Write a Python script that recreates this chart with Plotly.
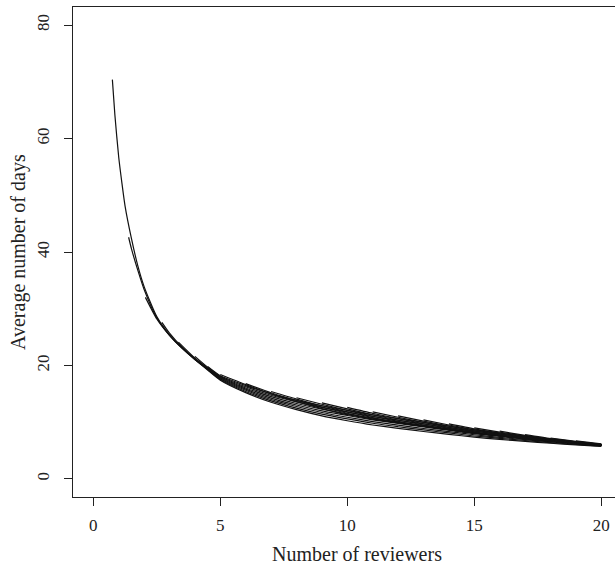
import plotly.graph_objects as go

# Early curves: number of reviewers (x) and average number of days (y)
reviewers_a = [0.75, 0.85, 1.0, 1.13, 1.25, 1.5, 1.75, 2.0, 2.5, 3.0, 3.5, 4.0, 4.5,
               5, 6, 7, 8, 9, 10, 11, 12, 13, 14, 15, 16, 17, 18, 19, 20]
days_a = [70.4, 64.1, 56.7, 52.0, 48.1, 42.4, 37.6, 33.9, 28.6, 25.4, 23.1, 21.1, 19.2,
          17.4, 15.2, 13.5, 12.2, 11.1, 10.25, 9.5, 8.9, 8.35, 7.85, 7.35, 6.95, 6.6, 6.28, 5.98, 5.72]

reviewers_b = [1.39, 1.5, 1.75, 2.0, 2.5, 3.0, 3.5, 4.0, 4.5,
               5, 6, 7, 8, 9, 10, 11, 12, 13, 14, 15, 16, 17, 18, 19, 20]
days_b = [42.6, 40.6, 36.8, 33.4, 28.4, 25.3, 23.0, 21.05, 19.3,
          17.53, 15.41, 13.75, 12.47, 11.40, 10.56, 9.80, 9.19, 8.62, 8.09, 7.56, 7.14, 6.76, 6.40, 6.07, 5.78]

reviewers_c = [2.05, 2.5, 3.0, 3.5, 4.0, 4.5,
               5, 6, 7, 8, 9, 10, 11, 12, 13, 14, 15, 16, 17, 18, 19, 20]
days_c = [32.0, 28.2, 25.3, 23.0, 21.05, 19.35,
          17.66, 15.62, 13.99, 12.75, 11.70, 10.86, 10.10, 9.47, 8.88, 8.33, 7.78, 7.33, 6.91, 6.52, 6.17, 5.84]

reviewers_d = [2.7, 3.0, 3.5, 4.0, 4.5,
               5, 6, 7, 8, 9, 10, 11, 12, 13, 14, 15, 16, 17, 18, 19, 20]
days_d = [27.6, 25.7, 23.2, 21.15, 19.45,
          17.79, 15.82, 14.24, 13.02, 12.00, 11.17, 10.40, 9.76, 9.15, 8.57, 7.99, 7.52, 7.07, 6.64, 6.26, 5.91]

reviewers_e = [3.35, 3.5, 4.0, 4.5,
               5, 6, 7, 8, 9, 10, 11, 12, 13, 14, 15, 16, 17, 18, 19, 20]
days_e = [24.1, 23.45, 21.3, 19.55,
          17.92, 16.03, 14.49, 13.29, 12.30, 11.47, 10.70, 10.04, 9.42, 8.81, 8.21, 7.70, 7.22, 6.76, 6.35, 5.97]

reviewers_f = [4.0, 4.5, 5, 6, 7, 8, 9, 10, 11, 12, 13, 14, 15, 16, 17, 18, 19, 20]
days_f = [21.6, 19.7, 18.05, 16.24, 14.74, 13.57, 12.60, 11.78, 10.99, 10.33, 9.68, 9.05, 8.42, 7.89, 7.38, 6.88, 6.45, 6.03]

reviewers_g = [4.5, 5, 6, 7, 8, 9, 10, 11, 12, 13, 14, 15, 16, 17, 18, 19, 20]
days_g = [19.8, 18.18, 16.45, 14.98, 13.84, 12.89, 12.08, 11.29, 10.62, 9.95, 9.29, 8.64, 8.08, 7.54, 7.00, 6.54, 6.09]

# Later curves start at a whole number of reviewers and run in steps of one up to 20
late_starts = [5, 6, 7, 8, 9, 10, 11, 12, 13, 14, 15, 16, 17, 18, 19]
late_days = [
    [18.4, 16.62, 14.98, 13.61, 12.39, 11.31, 10.54, 9.89, 9.27, 8.68, 8.09, 7.60, 7.14, 6.69, 6.30, 5.94],
    [16.8, 15.19, 13.84, 12.64, 11.57, 10.54, 9.89, 9.27, 8.68, 8.09, 7.60, 7.14, 6.69, 6.30, 5.94],
    [15.4, 14.07, 12.89, 11.82, 10.79, 9.89, 9.27, 8.68, 8.09, 7.60, 7.14, 6.69, 6.30, 5.94],
    [14.3, 13.15, 12.08, 11.04, 10.13, 9.27, 8.68, 8.09, 7.60, 7.14, 6.69, 6.30, 5.94],
    [13.4, 12.34, 11.29, 10.37, 9.50, 8.68, 8.09, 7.60, 7.14, 6.69, 6.30, 5.94],
    [12.6, 11.55, 10.62, 9.72, 8.89, 8.09, 7.60, 7.14, 6.69, 6.30, 5.94],
    [11.8, 10.86, 9.95, 9.09, 8.27, 7.60, 7.14, 6.69, 6.30, 5.94],
    [11.1, 10.17, 9.29, 8.46, 7.76, 7.14, 6.69, 6.30, 5.94],
    [10.4, 9.50, 8.64, 7.92, 7.27, 6.69, 6.30, 5.94],
    [9.7, 8.82, 8.08, 7.40, 6.80, 6.30, 5.94],
    [9.0, 8.24, 7.54, 6.90, 6.38, 5.94],
    [8.4, 7.67, 7.00, 6.46, 5.99],
    [7.8, 7.10, 6.54, 6.04],
    [7.2, 6.62, 6.09],
    [6.7, 6.15],
]

x_ticks = [0, 5, 10, 15, 20]
y_ticks = [0, 20, 40, 60, 80]
x_title = "Number of reviewers"
y_title = "Average number of days"

LINE = dict(color="#111111", width=1.2, shape="spline", smoothing=0.6)
INK = "#222222"
SERIF = "Liberation Serif, Times New Roman, serif"

fig = go.Figure()
early = [(reviewers_a, days_a), (reviewers_b, days_b), (reviewers_c, days_c),
         (reviewers_d, days_d), (reviewers_e, days_e), (reviewers_f, days_f),
         (reviewers_g, days_g)]
for xs, ys in early:
    fig.add_trace(go.Scatter(x=xs, y=ys, mode="lines", line=LINE,
                             hoverinfo="skip", showlegend=False))
for start, ys in zip(late_starts, late_days):
    xs = list(range(start, start + len(ys)))
    fig.add_trace(go.Scatter(x=xs, y=ys, mode="lines", line=LINE,
                             hoverinfo="skip", showlegend=False))

fig.update_layout(
    width=615, height=568,
    margin=dict(l=73, r=0, t=7, b=71),
    paper_bgcolor="white", plot_bgcolor="white",
    font=dict(family=SERIF, size=17, color=INK),
    xaxis=dict(
        range=[-0.8, 20.54], tickvals=x_ticks, ticktext=[str(v) for v in x_ticks],
        showgrid=False, zeroline=False, showline=True, mirror=True,
        linecolor=INK, linewidth=1,
        ticks="outside", ticklen=8, tickcolor=INK, tickwidth=1,
        ticklabelstandoff=5,
        tickfont=dict(family=SERIF, size=17, color=INK),
    ),
    yaxis=dict(
        range=[-3.2, 83.2], tickvals=y_ticks, ticktext=[str(v) for v in y_ticks],
        showgrid=False, zeroline=False, showline=True, mirror=False,
        linecolor=INK, linewidth=1,
        ticks="outside", ticklen=8, tickcolor=INK, tickwidth=1,
        tickangle=-90, ticklabelstandoff=8,
        tickfont=dict(family=SERIF, size=17, color=INK),
    ),
    annotations=[
        dict(text=x_title, xref="paper", yref="paper", x=0.524, y=-0.116,
             xanchor="center", yanchor="middle", showarrow=False,
             font=dict(family=SERIF, size=20, color=INK)),
        dict(text=y_title, xref="paper", yref="paper", x=-0.1015, y=0.5,
             xanchor="center", yanchor="middle", showarrow=False, textangle=-90,
             font=dict(family=SERIF, size=20, color=INK)),
    ],
)

fig.write_html("out.html")
